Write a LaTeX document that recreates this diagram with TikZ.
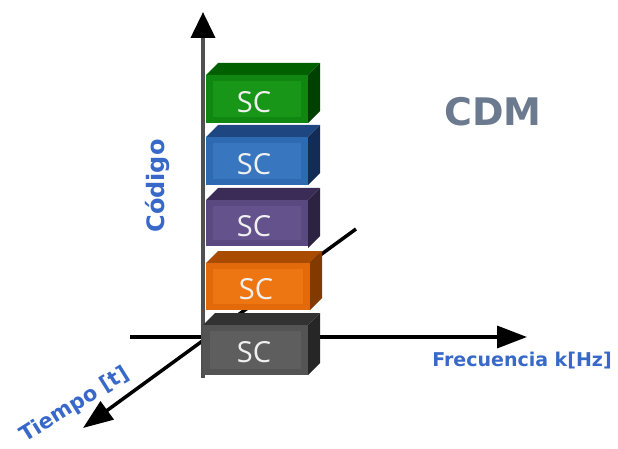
\documentclass[tikz,border=0pt]{standalone}
\usepackage{fontspec}
\setmainfont{Open Sans}
\newfontfamily\widebold{DejaVu Sans}
\usepackage{xcolor}
\usetikzlibrary{arrows.meta}

\definecolor{axisgray}{RGB}{80,80,80}
\definecolor{lblblue}{RGB}{56,104,200}
\definecolor{cdmgray}{RGB}{107,122,143}
\definecolor{grnF}{RGB}{16,135,16}
\definecolor{grnI}{RGB}{24,150,24}
\definecolor{grnT}{RGB}{0,96,0}
\definecolor{grnS}{RGB}{0,64,0}
\definecolor{bluF}{RGB}{46,106,178}
\definecolor{bluI}{RGB}{56,118,192}
\definecolor{bluT}{RGB}{30,70,128}
\definecolor{bluS}{RGB}{18,44,86}
\definecolor{purF}{RGB}{90,72,128}
\definecolor{purI}{RGB}{100,82,140}
\definecolor{purT}{RGB}{58,44,86}
\definecolor{purS}{RGB}{44,34,66}
\definecolor{orgF}{RGB}{226,106,10}
\definecolor{orgI}{RGB}{238,118,18}
\definecolor{orgT}{RGB}{170,76,0}
\definecolor{orgS}{RGB}{130,58,0}
\definecolor{gryF}{RGB}{84,84,84}
\definecolor{gryI}{RGB}{94,94,94}
\definecolor{gryT}{RGB}{50,50,50}
\definecolor{gryS}{RGB}{38,38,38}

\tikzset{
  axisline/.style={line width=3.5pt, -{Triangle[length=30pt,width=22pt]}},
  sclabel/.style={text=white!88!gray, font=\fontsize{29}{29}\selectfont},
  axislabel/.style={text=lblblue, font=\widebold\bfseries\fontsize{19}{19}\selectfont}
}

\begin{document}
\begin{tikzpicture}[x=1pt,y=-1pt]
\useasboundingbox (0,0) rectangle (618,449);

% axes
\coordinate (o) at (203,337);
\coordinate (ytop) at (203,12);
\coordinate (ybot) at (203,378);
\coordinate (xl) at (130,337);
\coordinate (xr) at (527,337);
\coordinate (zb) at (356,229);
\coordinate (zf) at (83,428);
\draw [axisline, black] (xl) -- (xr);
\draw [axisline, black] (zb) -- (zf);
\draw [line width=4pt, axisgray, -{Triangle[length=26pt,width=24pt,color=black]}] (ybot) -- (ytop);

% green
\fill [grnT] (206,75) -- (218,63) -- (320,63) -- (308,75) -- cycle;
\fill [grnS] (308,75) -- (320,63) -- (320,111) -- (308,123) -- cycle;
\fill [grnF] (206,75) rectangle (308,123);
\fill [grnI] (213,81) rectangle (301,117);
\node [sclabel] (sc1) at (254,102) {SC};

% blue
\fill [bluT] (206,137) -- (218,125) -- (320,125) -- (308,137) -- cycle;
\fill [bluS] (308,137) -- (320,125) -- (320,173) -- (308,185) -- cycle;
\fill [bluF] (206,137) rectangle (308,185);
\fill [bluI] (213,143) rectangle (301,179);
\node [sclabel] (sc2) at (254,164) {SC};

% purple
\fill [purT] (206,200) -- (218,188) -- (320,188) -- (308,200) -- cycle;
\fill [purS] (308,200) -- (320,188) -- (320,236) -- (308,248) -- cycle;
\fill [purF] (206,200) rectangle (308,246);
\fill [purI] (213,206) rectangle (301,240);
\node [sclabel] (sc3) at (254,226) {SC};

% orange
\fill [orgT] (206,263) -- (218,251) -- (322,251) -- (310,263) -- cycle;
\fill [orgS] (310,263) -- (322,251) -- (322,298) -- (310,310) -- cycle;
\fill [orgF] (206,263) rectangle (310,310);
\fill [orgI] (213,269) rectangle (303,304);
\node [sclabel] (sc4) at (256,289) {SC};

% gray
\fill [gryT] (203,325) -- (215,313) -- (320,313) -- (308,325) -- cycle;
\fill [gryS] (308,325) -- (320,313) -- (320,363) -- (308,375) -- cycle;
\fill [gryF] (203,325) rectangle (308,375);
\fill [gryI] (210,331) rectangle (301,369);
\node [sclabel] (sc5) at (254,352) {SC};

% labels
\node [axislabel, rotate=90, font=\widebold\bfseries\fontsize{24}{24}\selectfont] (code) at (157,186) {Código};
\node [axislabel] (freq) at (522,361) {Frecuencia k[Hz]};
\node [axislabel, rotate=32, font=\widebold\bfseries\fontsize{21}{21}\selectfont] (time) at (75,405) {Tiempo [t]};
\node [text=cdmgray, font=\widebold\bfseries\fontsize{38}{38}\selectfont] (cdm) at (493,112) {CDM};

\end{tikzpicture}
\end{document}
